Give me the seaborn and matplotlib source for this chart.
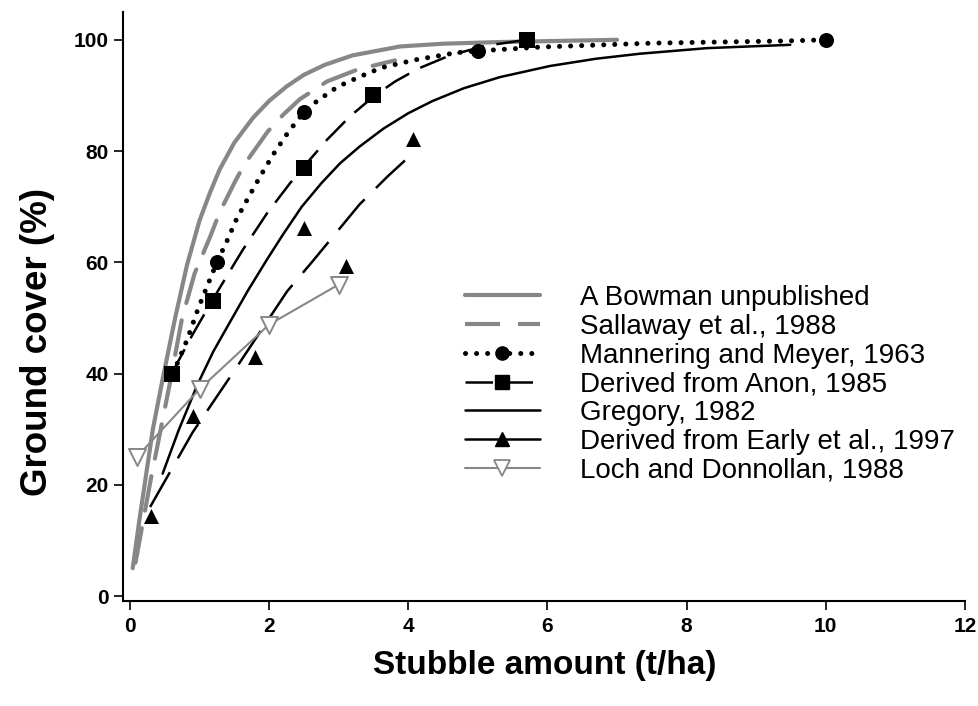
import matplotlib
matplotlib.use("Agg")
import matplotlib.pyplot as plt
from matplotlib.lines import Line2D
import seaborn as sns

sns.set_style("ticks")
plt.rcParams["font.family"] = ["Liberation Sans", "DejaVu Sans"]
plt.rcParams.update({"text.color": "black", "axes.labelcolor": "black",
                     "xtick.color": "black", "ytick.color": "black"})

GRAY = "#878787"

# ---- data: stubble amount (t/ha) vs ground cover (%) ----
# A Bowman unpublished (curve)
bowman_x = [0.04, 0.14, 0.33, 0.47, 0.65, 0.82, 1.0, 1.15, 1.29, 1.5, 1.77, 2.0, 2.25, 2.5,
            2.8, 3.2, 3.88, 4.5, 5.32, 7.0]
bowman_y = [5.0, 14.0, 30.0, 39.0, 50.0, 59.5, 67.5, 72.5, 76.7, 81.5, 86.0, 89.0, 91.6, 93.7,
            95.5, 97.2, 98.8, 99.3, 99.6, 100.0]

# Sallaway et al., 1988 (curve)
sallaway_x = [0.08, 0.3, 0.57, 0.75, 0.93, 1.15, 1.29, 1.51, 1.65, 1.98, 2.2, 2.44, 2.83, 3.28, 3.81]
sallaway_y = [6.0, 21.0, 38.0, 50.0, 58.0, 64.5, 69.0, 74.5, 77.7, 83.5, 86.5, 89.3, 92.5, 94.7, 96.3]

# Mannering and Meyer, 1963 (curve + observations)
mannering_x = [0.62, 0.82, 0.99, 1.12, 1.25, 1.39, 1.53, 1.7, 1.87, 2.06, 2.27, 2.5, 2.69, 2.99,
               3.31, 3.62, 4.1, 4.7, 5.0, 5.9, 7.5, 9.44, 10.0]
mannering_y = [40.0, 46.0, 52.0, 56.0, 60.0, 63.7, 67.7, 71.6, 75.4, 79.4, 83.3, 87.0, 89.0, 91.6,
               93.4, 95.0, 96.4, 97.7, 98.0, 98.7, 99.4, 99.8, 100.0]
mannering_obs_x = [1.25, 2.5, 5.0, 10.0]
mannering_obs_y = [60.0, 87.0, 98.0, 100.0]

# Derived from Anon, 1985 (curve + observations)
anon_x = [0.6, 0.9, 1.2, 1.44, 1.62, 1.97, 2.3, 2.5, 2.83, 3.16, 3.5, 3.81, 4.14, 4.6, 5.1, 5.7]
anon_y = [40.0, 47.0, 53.5, 58.5, 62.2, 68.8, 74.2, 77.2, 82.0, 86.2, 89.8, 92.5, 94.8, 97.2,
          98.9, 100.0]
anon_obs_x = [0.6, 1.2, 2.5, 3.5, 5.7]
anon_obs_y = [40.0, 53.0, 77.0, 90.0, 100.0]

# Gregory, 1982 (curve)
gregory_x = [0.47, 0.7, 0.97, 1.2, 1.44, 1.7, 1.97, 2.2, 2.47, 2.75, 3.02, 3.3, 3.64, 4.0,
             4.35, 4.8, 5.32, 6.04, 6.7, 7.33, 8.29, 9.49]
gregory_y = [22.0, 29.8, 38.0, 44.0, 49.3, 55.0, 60.5, 65.0, 70.0, 74.2, 77.8, 80.8, 84.0, 86.8,
             89.0, 91.3, 93.3, 95.3, 96.6, 97.5, 98.5, 99.1]

# Derived from Early et al., 1997 (curve + observations)
early_x = [0.29, 0.9, 1.5, 2.26, 2.62, 3.3, 3.7, 4.1]
early_y = [16.0, 29.4, 40.5, 54.8, 60.1, 70.4, 75.4, 80.0]
early_obs_x = [0.3, 0.9, 1.8, 2.5, 3.1, 4.07]
early_obs_y = [14.4, 32.3, 43.0, 66.2, 59.4, 82.2]

# Loch and Donnollan, 1988 (observations joined by a line)
loch_x = [0.1, 1.0, 2.0, 3.0]
loch_y = [25.0, 37.2, 48.8, 56.0]

labels = ["A Bowman unpublished", "Sallaway et al., 1988", "Mannering and Meyer, 1963",
          "Derived from Anon, 1985", "Gregory, 1982", "Derived from Early et al., 1997",
          "Loch and Donnollan, 1988"]

fig = plt.figure(figsize=(9.79, 7.06), dpi=100)
ax = fig.add_axes([0.1256, 0.1487, 0.860, 0.8343])

common = dict(ax=ax, sort=False, estimator=None, legend=False)

sns.lineplot(x=bowman_x, y=bowman_y, color=GRAY, linewidth=3.0, solid_capstyle="round",
             solid_joinstyle="round", **common)
sns.lineplot(x=sallaway_x, y=sallaway_y, color=GRAY, linewidth=3.0,
             linestyle=(0, (8.4, 4.3)), dash_capstyle="round", **common)
sns.lineplot(x=mannering_x, y=mannering_y, color="black", linewidth=3.6,
             linestyle=(0, (0.01, 2.2)), dash_capstyle="round", **common)
sns.lineplot(x=anon_x, y=anon_y, color="black", linewidth=1.8,
             linestyle=(0, (11, 5)), **common)
sns.lineplot(x=gregory_x, y=gregory_y, color="black", linewidth=1.8,
             solid_joinstyle="round", **common)
sns.lineplot(x=early_x, y=early_y, color="black", linewidth=1.8,
             linestyle=(0, (16, 6.4)), **common)
sns.lineplot(x=loch_x, y=loch_y, color=GRAY, linewidth=1.5, **common)

sns.scatterplot(x=mannering_obs_x, y=mannering_obs_y, marker="o", s=117, color="black",
                linewidth=0, ax=ax, legend=False, zorder=5)
sns.scatterplot(x=anon_obs_x, y=anon_obs_y, marker="s", s=130, color="black",
                linewidth=0, ax=ax, legend=False, zorder=5)
sns.scatterplot(x=early_obs_x, y=early_obs_y, marker="^", s=117, color="black",
                linewidth=0, ax=ax, legend=False, zorder=5)
sns.scatterplot(x=loch_x, y=loch_y, marker="v", s=150, facecolor="white", edgecolor=GRAY,
                linewidth=1.4, ax=ax, legend=False, zorder=5)

ax.set_xlim(-0.1, 12.0)
ax.set_ylim(-0.9, 105.0)
ax.set_xticks([0, 2, 4, 6, 8, 10, 12])
ax.set_yticks([0, 20, 40, 60, 80, 100])
for side in ("top", "right"):
    ax.spines[side].set_visible(False)
for side in ("left", "bottom"):
    ax.spines[side].set_linewidth(1.5)
    ax.spines[side].set_color("black")
ax.tick_params(axis="both", direction="out", length=6.5, width=1.2, color="black",
               labelsize=15, labelcolor="black")
for lab in ax.get_xticklabels() + ax.get_yticklabels():
    lab.set_fontweight("bold")
ax.tick_params(axis="x", pad=5)
ax.tick_params(axis="y", pad=4)

ax.set_xlabel("Stubble amount (t/ha)", fontsize=24, fontweight="bold")
ax.set_ylabel("Ground cover (%)", fontsize=26.5, fontweight="bold")
ax.xaxis.label.set_va("center")
ax.yaxis.label.set_va("center")
ax.xaxis.set_label_coords(0.501, -0.11)
ax.yaxis.set_label_coords(-0.102, 0.44)

handles = [
    Line2D([], [], color=GRAY, linewidth=3.0),
    Line2D([], [], color=GRAY, linewidth=3.0, linestyle=(0, (8.4, 4.3))),
    Line2D([], [], color="black", linewidth=3.6, linestyle=(0, (0.01, 2.2)),
           dash_capstyle="round", marker="o", markersize=9.5),
    Line2D([], [], color="black", linewidth=1.8, linestyle=(0, (11, 5)),
           marker="s", markersize=10),
    Line2D([], [], color="black", linewidth=1.8),
    Line2D([], [], color="black", linewidth=1.8, marker="^", markersize=10),
    Line2D([], [], color=GRAY, linewidth=1.5, marker="v", markersize=11,
           markerfacecolor="white", markeredgecolor=GRAY, markeredgewidth=1.3),
]
ax.legend(handles, labels, loc="upper left", bbox_to_anchor=(465 / 979, 1 - 285 / 706),
          bbox_transform=fig.transFigure, frameon=False, fontsize=20, numpoints=1,
          handlelength=2.7, handletextpad=1.45, labelspacing=0.1, borderpad=0,
          borderaxespad=0)

fig.savefig("out.png", dpi=100)
